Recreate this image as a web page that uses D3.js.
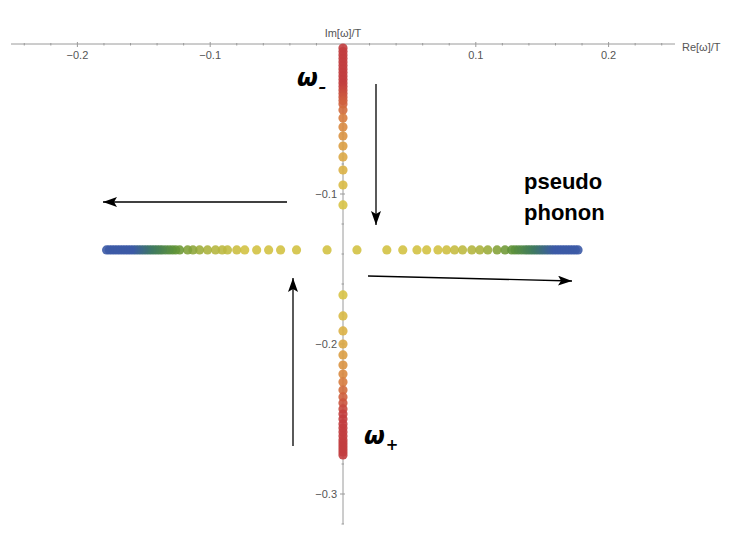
<!DOCTYPE html>
<html>
<head>
<meta charset="utf-8">
<script src="https://cdn.jsdelivr.net/npm/d3@7"></script>
<style>
body { margin: 0; background: #fff; }
svg { display: block; font-family: "Liberation Sans", Arial, sans-serif; }
</style>
</head>
<body>
<svg id="chart" width="742" height="534"></svg>
<script>
// values (Re / Im of omega over T)
var upperIm = [-0.0027, -0.0050, -0.0073, -0.0097, -0.0120, -0.0143, -0.0167, -0.0190, -0.0213,
  -0.0237, -0.0260, -0.0283, -0.0307, -0.0330, -0.0353, -0.0377, -0.0400, -0.044, -0.0493,
  -0.0553, -0.0613, -0.068, -0.0753, -0.084, -0.094, -0.1073];
var lowerIm = [-0.1673, -0.1813, -0.1913, -0.2, -0.2073, -0.214, -0.22, -0.2253, -0.2307, -0.2353,
  -0.2393, -0.2433, -0.2467, -0.25, -0.2533, -0.256, -0.2587, -0.2613, -0.264, -0.266, -0.268,
  -0.27, -0.272, -0.274];
var rightRe = [0.0105, 0.033, 0.045, 0.0557, 0.063, 0.0715, 0.078, 0.084, 0.090, 0.097, 0.103,
  0.109, 0.116, 0.122, 0.127, 0.1295, 0.132, 0.1345, 0.137, 0.139, 0.141, 0.143, 0.145, 0.147,
  0.149, 0.151, 0.153, 0.155, 0.157, 0.159, 0.161, 0.163, 0.165, 0.167, 0.169, 0.171, 0.173,
  0.175, 0.177];
var leftRe = [-0.012, -0.035, -0.047, -0.056, -0.065, -0.074, -0.080, -0.087, -0.091, -0.096,
  -0.102, -0.108, -0.113, -0.117, -0.123, -0.126, -0.1285, -0.131, -0.1335, -0.136, -0.138,
  -0.140, -0.142, -0.144, -0.146, -0.148, -0.150, -0.152, -0.154, -0.156, -0.158, -0.160,
  -0.162, -0.164, -0.166, -0.168, -0.170, -0.172, -0.174, -0.176, -0.178];
var phononIm = -0.1373;  // imaginary part where the two branches meet
var xTicks = [-0.2, -0.1, 0.1, 0.2];
var yTicks = [-0.1, -0.2, -0.3];

var svg = d3.select("#chart");
var x = d3.scaleLinear().domain([-0.25, 0.25]).range([11, 675]);
var y = d3.scaleLinear().domain([-0.32, 0]).range([524, 44]);

// colour along the branches: yellow at the meeting point, red / blue far out
var vColor = d3.scaleLinear()
  .domain([0.035, 0.065, 0.085, 0.1, 0.11])
  .range(["#d8c346", "#dca646", "#d9853f", "#cd5a3e", "#c23d3f"])
  .clamp(true);
var hColor = d3.scaleLinear()
  .domain([0.075, 0.105, 0.128, 0.145, 0.16])
  .range(["#d3c244", "#a9b23e", "#5f9338", "#3f7a60", "#3c5aa6"])
  .clamp(true);

var gray = "#9a9a9a";
var tickTxt = "#555";

// axes
var xAxis = svg.append("g");
xAxis.append("line").attr("x1", x(-0.25)).attr("x2", x(0.25))
  .attr("y1", y(0)).attr("y2", y(0)).attr("stroke", gray);
xAxis.selectAll("line.minor").data(d3.range(-24, 25, 2).filter(function(d){ return d !== 0; }))
  .enter().append("line").attr("class", "minor")
  .attr("x1", function(d){ return x(d/100); }).attr("x2", function(d){ return x(d/100); })
  .attr("y1", function(d){ return d % 10 === 0 ? y(0) - 2 : y(0) - 1; })
  .attr("y2", function(d){ return d % 10 === 0 ? y(0) + 3 : y(0) + 1.5; })
  .attr("stroke", gray);
xAxis.selectAll("text").data(xTicks).enter().append("text")
  .attr("x", function(d){ return x(d); }).attr("y", y(0) + 15)
  .attr("text-anchor", "middle").attr("font-size", 11).attr("fill", tickTxt)
  .text(function(d){ return d3.format(".1f")(d).replace("-", "\u2212"); });

var yAxis = svg.append("g");
yAxis.append("line").attr("x1", x(0)).attr("x2", x(0))
  .attr("y1", y(0)).attr("y2", y(-0.32)).attr("stroke", gray);
yAxis.selectAll("line.minor").data(d3.range(-32, 0, 2))
  .enter().append("line").attr("class", "minor")
  .attr("y1", function(d){ return y(d/100); }).attr("y2", function(d){ return y(d/100); })
  .attr("x1", function(d){ return d % 10 === 0 ? x(0) - 3 : x(0) - 1.5; })
  .attr("x2", function(d){ return d % 10 === 0 ? x(0) + 2 : x(0) + 1; })
  .attr("stroke", gray);
yAxis.selectAll("text").data(yTicks).enter().append("text")
  .attr("x", x(0) - 6).attr("y", function(d){ return y(d) + 4; })
  .attr("text-anchor", "end").attr("font-size", 11).attr("fill", tickTxt)
  .text(function(d){ return d3.format(".1f")(d).replace("-", "\u2212"); });

svg.append("text").attr("x", x(0)).attr("y", 37).attr("text-anchor", "middle")
  .attr("font-size", 11).attr("fill", tickTxt).text("Im[\u03c9]/T");
svg.append("text").attr("x", 682).attr("y", 51)
  .attr("font-size", 11).attr("fill", tickTxt).text("Re[\u03c9]/T");

// points
var vPts = upperIm.concat(lowerIm).map(function(v){ return {re: 0, im: v}; });
var hPts = leftRe.concat(rightRe).map(function(v){ return {re: v, im: phononIm}; });

svg.append("g").selectAll("circle").data(hPts).enter().append("circle")
  .attr("cx", function(d){ return x(d.re); })
  .attr("cy", function(d){ return y(d.im); })
  .attr("r", 4.6)
  .attr("fill", function(d){ return hColor(Math.abs(d.re)); })
  .attr("fill-opacity", 0.9);

svg.append("g").selectAll("circle").data(vPts).enter().append("circle")
  .attr("cx", function(d){ return x(d.re); })
  .attr("cy", function(d){ return y(d.im); })
  .attr("r", 4.6)
  .attr("fill", function(d){ return vColor(Math.abs(d.im - phononIm)); })
  .attr("fill-opacity", 0.9);

// arrows
svg.append("defs").append("marker")
  .attr("id", "head").attr("viewBox", "0 0 14 10").attr("refX", 14).attr("refY", 5)
  .attr("markerWidth", 14).attr("markerHeight", 10).attr("markerUnits", "userSpaceOnUse")
  .attr("orient", "auto")
  .append("path").attr("d", "M0,0 L14,5 L0,10 L3,5 Z").attr("fill", "#000");

var arrows = [
  [287, 202, 103, 202],
  [376, 84, 376, 225],
  [293, 446, 293, 278],
  [368, 276, 572, 281]
];
svg.append("g").selectAll("line").data(arrows).enter().append("line")
  .attr("x1", function(d){ return d[0]; }).attr("y1", function(d){ return d[1]; })
  .attr("x2", function(d){ return d[2]; }).attr("y2", function(d){ return d[3]; })
  .attr("stroke", "#000").attr("stroke-width", 1.3)
  .attr("marker-end", "url(#head)");

// labels: omega with a subscript placed right after the glyph
var omega = svg.append("g").attr("font-family", "'DejaVu Sans', sans-serif")
  .attr("font-weight", "bold").attr("font-style", "italic").attr("fill", "#000");
function omegaLabel(x0, y0, sub) {
  var w = omega.append("text").attr("x", x0).attr("y", y0).attr("font-size", 24).text("\u03c9");
  var len = w.node().getComputedTextLength();
  omega.append("text").attr("x", x0 + len + 1).attr("y", y0 + 6).attr("font-size", 15).text(sub);
}
omegaLabel(297, 86, "\u2013");
omegaLabel(364, 444, "+");

svg.append("text").attr("x", 524).attr("y", 189).attr("font-size", 22)
  .attr("font-weight", "bold").attr("fill", "#000").text("pseudo");
svg.append("text").attr("x", 524).attr("y", 220).attr("font-size", 22)
  .attr("font-weight", "bold").attr("fill", "#000").text("phonon");
</script>
</body>
</html>
